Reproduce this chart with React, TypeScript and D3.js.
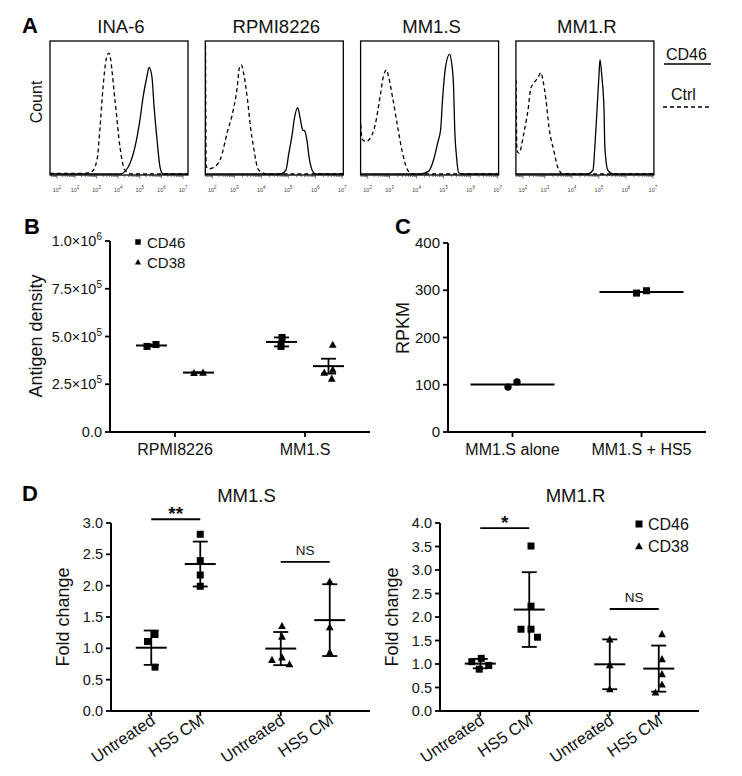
import React from 'react';
import * as d3 from 'd3';

const FONT = "'Liberation Sans', Arial, Helvetica, sans-serif";
const W = 742;
const H = 776;
const INK = '#111';

// ---------------- Panel A: flow histograms ----------------
const cellLines = ['INA-6', 'RPMI8226', 'MM1.S', 'MM1.R'];
const histLegend = ['CD46', 'Ctrl'];
const decadesINA6 = [1, 2, 3, 4, 5, 6, 7];
const decadesOther = [2, 3, 4, 5, 6, 7];
// [log10 fluorescence, count (% of box height)]
const ctrlINA6: [number, number][] = [[0.6, 0.5], [2.37, 0.5], [2.79, 2], [3.02, 11], [3.16, 36], [3.3, 67], [3.44, 88], [3.57, 93], [3.85, 57], [4.08, 21], [4.31, 3], [4.64, 0], [7.3, 0]];
const cd46INA6: [number, number][] = [[0.6, 0], [4.08, 0], [4.45, 5], [4.78, 21], [5.01, 42], [5.15, 59], [5.33, 75], [5.43, 82], [5.56, 75], [5.66, 52], [5.8, 26], [5.94, 5], [6.07, 0], [7.3, 0]];
const ctrlRPMI: [number, number][] = [[1.69, 110], [1.72, 6], [1.85, 4], [2.05, 5], [2.36, 11], [2.68, 32], [2.95, 49], [3.11, 67], [3.19, 82], [3.26, 84], [3.34, 78], [3.49, 57], [3.6, 36], [3.71, 21], [3.9, 3], [4.23, 0], [7.1, 0]];
const cd46RPMI: [number, number][] = [[1.69, 0], [4.72, 0], [4.91, 3], [5.02, 16], [5.14, 30], [5.22, 42], [5.35, 51], [5.43, 44], [5.53, 34], [5.61, 33], [5.69, 26], [5.77, 13], [5.92, 1.5], [6.03, 0], [7.1, 0]];
const ctrlMM1S: [number, number][] = [[1.69, 38], [1.75, 27], [1.91, 25], [2.14, 28], [2.36, 39], [2.59, 62], [2.73, 76], [2.86, 80], [2.95, 75], [3.11, 59], [3.3, 36], [3.48, 16], [3.67, 3], [3.85, 0], [7.1, 0]];
const cd46MM1S: [number, number][] = [[1.69, 0], [4.15, 0], [4.44, 2], [4.63, 11], [4.78, 24], [4.89, 34], [4.96, 57], [5.07, 82], [5.22, 92], [5.3, 85], [5.37, 67], [5.41, 36], [5.48, 13], [5.56, 1], [5.7, 0], [7.1, 0]];
const ctrlMM1R: [number, number][] = [[1.69, 72], [1.73, 18], [1.82, 16], [2.05, 32], [2.23, 49], [2.36, 66], [2.5, 70], [2.68, 74], [2.82, 78], [2.91, 72], [3.04, 57], [3.15, 36], [3.33, 18], [3.48, 5], [3.67, 0], [7.1, 0]];
const cd46MM1R: [number, number][] = [[1.69, 0], [4.59, 0], [4.78, 3], [4.85, 21], [4.93, 49], [5.0, 75], [5.04, 88], [5.11, 75], [5.19, 49], [5.22, 21], [5.33, 3], [5.52, 0], [7.1, 0]];
const ctrlCurves = [ctrlINA6, ctrlRPMI, ctrlMM1S, ctrlMM1R];
const cd46Curves = [cd46INA6, cd46RPMI, cd46MM1S, cd46MM1R];

// ---------------- Panel B ----------------
const bCategories = ['RPMI8226', 'MM1.S'];
const bSeries = ['CD46', 'CD38'];
const bCD46 = [[4.48e5, 4.58e5], [4.48e5, 4.95e5]];
const bCD38 = [[3.1e5, 3.12e5], [4.58e5, 3.28e5, 3.12e5, 2.81e5]];
const bTicks = [0, 2.5e5, 5e5, 7.5e5, 1e6];
const bTickMantissa = ['0.0', '2.5×10', '5.0×10', '7.5×10', '1.0×10'];
const bTickExp = ['', '5', '5', '5', '6'];

// ---------------- Panel C ----------------
const cCategories = ['MM1.S alone', 'MM1.S + HS5'];
const cValues = [[95, 106], [294, 299]];
const cTicks = [0, 100, 200, 300, 400];

// ---------------- Panel D ----------------
const dGroups = ['CD46', 'CD38'];
const dTreatments = ['Untreated', 'HS5 CM'];
const mm1sCD46 = [[1.22, 1.11, 0.7], [2.82, 2.4, 2.17, 1.99]];
const mm1sCD38 = [[1.36, 1.19, 0.86, 0.82, 0.75], [2.07, 1.34, 0.94]];
const mm1rCD46 = [[1.05, 1.12, 0.89, 0.97], [3.51, 2.23, 1.74, 1.74, 1.57]];
const mm1rCD38 = [[1.53, 0.98, 0.47], [1.64, 1.11, 0.79, 0.57, 0.4]];
const mm1sTicks = [0, 0.5, 1, 1.5, 2, 2.5, 3];
const mm1rTicks = [0, 0.5, 1, 1.5, 2, 2.5, 3, 3.5, 4];
const mm1sSig = ['**', 'NS'];
const mm1sSigY = [3.06, 2.38];
const mm1rSig = ['*', 'NS'];
const mm1rSigY = [3.89, 2.17];

// ---------------- helpers ----------------
function swarm(ys: number[], d: number): number[] {
  const idx = ys.map((_, i) => i).sort((a, b) => ys[a] - ys[b]);
  const placed: { x: number; y: number }[] = [];
  const off = new Array(ys.length).fill(0);
  for (const i of idx) {
    const y = ys[i];
    let chosen = 0;
    outer: for (let s = 0; s < 80; s += 0.5) {
      const cands = s === 0 ? [0] : [-s, s];
      for (const c of cands) {
        if (placed.every((p) => Math.hypot(p.x - c, p.y - y) >= d)) {
          chosen = c;
          break outer;
        }
      }
    }
    placed.push({ x: chosen, y });
    off[i] = chosen;
  }
  const c = ((d3.min(off) as number) + (d3.max(off) as number)) / 2;
  return off.map((o) => o - c);
}

type Shape = 'square' | 'triangle' | 'circle';
function Marker({ x, y, shape, size = 7 }: { x: number; y: number; shape: Shape; size?: number }) {
  if (shape === 'square') return <rect x={x - size / 2} y={y - size / 2} width={size} height={size} fill="#000" />;
  if (shape === 'circle') return <circle cx={x} cy={y} r={size / 2 + 0.2} fill="#000" />;
  const h = size * 0.95;
  const w = size * 1.1;
  return <path d={`M${x},${y - h / 2 - 0.5}L${x + w / 2},${y + h / 2}L${x - w / 2},${y + h / 2}Z`} fill="#000" />;
}

function ScatterGroup({ values, cx, y, shape, err, halfMean = 15.5, halfCap = 7.5, swarmD = 10, markerSize = 7 }: any) {
  const ys = values.map((v: number) => y(v));
  const offs = swarm(ys, swarmD);
  const m = d3.mean(values) as number;
  let e = 0;
  if (err === 'sd') e = d3.deviation(values) as number;
  if (err === 'sem') e = (d3.deviation(values) as number) / Math.sqrt(values.length);
  return (
    <g>
      {values.map((v: number, i: number) => (
        <Marker key={i} x={cx + offs[i]} y={ys[i]} shape={shape} size={markerSize} />
      ))}
      <line x1={cx - halfMean} x2={cx + halfMean} y1={y(m)} y2={y(m)} stroke="#000" strokeWidth={2} />
      {err !== 'none' && (
        <g stroke="#000" strokeWidth={1.8}>
          <line x1={cx} x2={cx} y1={y(m + e)} y2={y(m - e)} />
          <line x1={cx - halfCap} x2={cx + halfCap} y1={y(m + e)} y2={y(m + e)} />
          <line x1={cx - halfCap} x2={cx + halfCap} y1={y(m - e)} y2={y(m - e)} />
        </g>
      )}
    </g>
  );
}

function YAxis({ x, y, ticks, labels, exps, fontSize = 14.5 }: any) {
  const [y0, y1] = y.range();
  return (
    <g>
      <line x1={x} x2={x} y1={y0} y2={y1} stroke="#000" strokeWidth={2} />
      {ticks.map((t: number, i: number) => (
        <g key={i}>
          <line x1={x - 5} x2={x} y1={y(t)} y2={y(t)} stroke="#000" strokeWidth={1.8} />
          <text x={x - 8} y={y(t) + 5} textAnchor="end" fontSize={fontSize} fill={INK}>
            {labels[i]}
            {exps && exps[i] ? (
              <tspan dy={-6} fontSize={10}>
                {exps[i]}
              </tspan>
            ) : null}
          </text>
        </g>
      ))}
    </g>
  );
}

// ---------------- Panel A component ----------------
function HistPanel({ i }: { i: number }) {
  const L = 50 + i * 155.3;
  const top = 41;
  const bottom = 175;
  const R = L + 138;
  const xs =
    i === 0
      ? d3.scaleLinear().domain([1, 2, 7]).range([L + 7, L + 25, L + 133])
      : d3.scaleLinear().domain([2, 3, 7]).range([L + 7, L + 29, L + 137]);
  const yc = d3.scaleLinear().domain([0, 100]).range([bottom - 1, 44]);
  const line = d3
    .line<[number, number]>()
    .x((d) => xs(d[0]))
    .y((d) => yc(d[1]))
    .curve(d3.curveMonotoneX);
  const lo = xs.invert(L);
  const hi = xs.invert(R);
  const decades = i === 0 ? decadesINA6 : decadesOther;
  const minor: number[] = [];
  for (let n = Math.floor(lo); n <= 7; n++) {
    for (let k = 2; k <= 9; k++) {
      const v = n + Math.log10(k);
      if (v >= lo && v <= hi) minor.push(v);
    }
  }
  const clipId = `clipA${i}`;
  return (
    <g>
      <defs>
        <clipPath id={clipId}>
          <rect x={L} y={top} width={R - L} height={bottom - top} />
        </clipPath>
      </defs>
      <text x={(L + R) / 2 + 2} y={33} textAnchor="middle" fontSize={18.5} fill={INK}>
        {cellLines[i]}
      </text>
      <g clipPath={`url(#${clipId})`} fill="none" stroke="#000" strokeWidth={1.3}>
        <path d={line(ctrlCurves[i]) as string} strokeDasharray="4,3" />
        <path d={line(cd46Curves[i]) as string} />
      </g>
      <rect x={L} y={top} width={R - L} height={bottom - top} fill="none" stroke="#000" strokeWidth={1.3} />
      <g stroke="#333" strokeWidth={0.7}>
        {minor.map((v, k) => (
          <line key={k} x1={xs(v)} x2={xs(v)} y1={bottom} y2={bottom + 2} />
        ))}
        {decades.map((v, k) => (
          <line key={'M' + k} x1={xs(v)} x2={xs(v)} y1={bottom} y2={bottom + 3.5} />
        ))}
      </g>
      {decades.map((v, k) => (
        <text key={'t' + k} x={xs(v)} y={192} textAnchor="middle" fontSize={5.5} fill="#444">
          10
          <tspan dy={-3} fontSize={4.5}>
            {v}
          </tspan>
        </text>
      ))}
    </g>
  );
}

// ---------------- Panel D component ----------------
function FoldPanel({ x0, x1, yTop, yMax, ticks, title, cd46, cd38, sig, sigY, legend }: any) {
  const y = d3.scaleLinear().domain([0, yMax]).range([711, yTop]);
  const gx = d3.scaleBand().domain(dGroups).range([x0, x1]);
  const tx = d3.scaleBand().domain(dTreatments).range([-49, 49]).paddingOuter(0);
  const pos = (g: string, t: string) => (gx(g) as number) + gx.bandwidth() / 2 + (tx(t) as number) + tx.bandwidth() / 2;
  const groupsData = [cd46, cd38];
  const shapes: Shape[] = ['square', 'triangle'];
  return (
    <g>
      <text x={(x0 + x1) / 2 + 6} y={502} textAnchor="middle" fontSize={18.5} fill={INK}>
        {title}
      </text>
      <YAxis x={x0} y={y} ticks={ticks} labels={ticks.map((t: number) => d3.format('.1f')(t))} />
      <line x1={x0} x2={x1} y1={711} y2={711} stroke="#000" strokeWidth={2} />
      {dGroups.map((g, gi) =>
        dTreatments.map((t, ti) => {
          const cx = pos(g, t);
          return (
            <g key={g + t}>
              <line x1={cx} x2={cx} y1={711} y2={716} stroke="#000" strokeWidth={1.8} />
              <text
                transform={`translate(${cx + 5},${723}) rotate(-34)`}
                textAnchor="end"
                fontSize={16.5}
                fill={INK}
              >
                {t}
              </text>
              <ScatterGroup values={groupsData[gi][ti]} cx={cx} y={y} shape={shapes[gi]} err="sd" />
            </g>
          );
        })
      )}
      {dGroups.map((g, gi) => {
        const a = pos(g, dTreatments[0]);
        const b = pos(g, dTreatments[1]);
        const ly = y(sigY[gi]);
        const isStar = sig[gi].includes('*');
        return (
          <g key={'s' + g}>
            <line x1={a} x2={b} y1={ly} y2={ly} stroke="#000" strokeWidth={1.8} />
            <text
              x={(a + b) / 2}
              y={isStar ? ly + 1 : ly - 7}
              textAnchor="middle"
              fontSize={isStar ? 19 : 13.5}
              fontWeight={isStar ? 'bold' : 'normal'}
              fill={INK}
            >
              {sig[gi]}
            </text>
          </g>
        );
      })}
      <text
        transform={`translate(${x0 - 42},${617}) rotate(-90)`}
        textAnchor="middle"
        fontSize={18}
        fill={INK}
      >
        Fold change
      </text>
      {legend &&
        dGroups.map((g, gi) => (
          <g key={'lg' + g}>
            <Marker x={x1 - 60} y={524 + gi * 22} shape={shapes[gi]} size={7} />
            <text x={x1 - 51} y={530 + gi * 22} fontSize={16} fill={INK}>
              {g}
            </text>
          </g>
        ))}
    </g>
  );
}

export default function App() {
  // Panel B scales
  const bY = d3.scaleLinear().domain([0, 1e6]).range([432, 241]);
  const bX = d3.scalePoint().domain(bCategories).range([110, 370]).padding(0.5);
  const bInner = d3.scalePoint().domain(bSeries).range([-23.5, 23.5]);
  // Panel C scales
  const cY = d3.scaleLinear().domain([0, 400]).range([432, 243]);
  const cX = d3.scalePoint().domain(cCategories).range([448, 706]).padding(0.5);
  const bData = [bCD46, bCD38];
  const bShapes: Shape[] = ['square', 'triangle'];
  const cShapes: Shape[] = ['circle', 'square'];

  return (
    <svg
      width={W}
      height={H}
      viewBox={`0 0 ${W} ${H}`}
      style={{ position: 'absolute', left: 0, top: 0, background: '#fff' }}
      fontFamily={FONT}
    >
      <rect width={W} height={H} fill="#fff" />
      {/* Panel letters */}
      <g fontWeight="bold" fontSize={22} fill="#000">
        <text x={22} y={33}>A</text>
        <text x={24} y={234}>B</text>
        <text x={395} y={234}>C</text>
        <text x={22} y={501}>D</text>
      </g>

      {/* Panel A */}
      <text transform="translate(42,102) rotate(-90)" textAnchor="middle" fontSize={16} fill={INK}>
        Count
      </text>
      {cellLines.map((_, i) => (
        <HistPanel key={i} i={i} />
      ))}
      <text x={666} y={60} fontSize={16} fill={INK}>
        {histLegend[0]}
      </text>
      <line x1={664} x2={711} y1={64} y2={64} stroke="#000" strokeWidth={1.3} />
      <text x={671} y={100} fontSize={16} fill={INK}>
        {histLegend[1]}
      </text>
      <line x1={663} x2={709} y1={107} y2={107} stroke="#000" strokeWidth={1.3} strokeDasharray="4,3" />

      {/* Panel B */}
      <YAxis x={110} y={bY} ticks={bTicks} labels={bTickMantissa} exps={bTickExp} />
      <line x1={110} x2={370} y1={432} y2={432} stroke="#000" strokeWidth={2} />
      {bCategories.map((c, ci) => (
        <g key={c}>
          <line x1={bX(c)} x2={bX(c)} y1={432} y2={437} stroke="#000" strokeWidth={1.8} />
          <text x={bX(c)} y={455} textAnchor="middle" fontSize={16} fill={INK}>
            {c}
          </text>
          {bSeries.map((s, si) => (
            <ScatterGroup
              key={s}
              values={bData[si][ci]}
              cx={(bX(c) as number) + (bInner(s) as number)}
              y={bY}
              shape={bShapes[si]}
              err="sem"
              swarmD={9}
            />
          ))}
        </g>
      ))}
      <text transform="translate(42,336) rotate(-90)" textAnchor="middle" fontSize={18} fill={INK}>
        Antigen density
      </text>
      {bSeries.map((s, si) => (
        <g key={'bl' + s}>
          <Marker x={138} y={242 + si * 20} shape={bShapes[si]} size={5.5} />
          <text x={147} y={248 + si * 20} fontSize={15} fill={INK}>
            {s}
          </text>
        </g>
      ))}

      {/* Panel C */}
      <YAxis x={448} y={cY} ticks={cTicks} labels={cTicks.map((t) => String(t))} fontSize={15} />
      <line x1={448} x2={706} y1={432} y2={432} stroke="#000" strokeWidth={2} />
      {cCategories.map((c, ci) => (
        <g key={c}>
          <line x1={cX(c)} x2={cX(c)} y1={432} y2={437} stroke="#000" strokeWidth={1.8} />
          <text x={cX(c)} y={455} textAnchor="middle" fontSize={16} fill={INK}>
            {c}
          </text>
          <ScatterGroup
            values={cValues[ci]}
            cx={cX(c)}
            y={cY}
            shape={cShapes[ci]}
            err="none"
            halfMean={42}
            swarmD={10}
          />
        </g>
      ))}
      <text transform="translate(409,328) rotate(-90)" textAnchor="middle" fontSize={18} fill={INK}>
        RPKM
      </text>

      {/* Panel D */}
      <FoldPanel
        x0={111}
        x1={370}
        yTop={523}
        yMax={3}
        ticks={mm1sTicks}
        title="MM1.S"
        cd46={mm1sCD46}
        cd38={mm1sCD38}
        sig={mm1sSig}
        sigY={mm1sSigY}
        legend={false}
      />
      <FoldPanel
        x0={440}
        x1={699}
        yTop={523}
        yMax={4}
        ticks={mm1rTicks}
        title="MM1.R"
        cd46={mm1rCD46}
        cd38={mm1rCD38}
        sig={mm1rSig}
        sigY={mm1rSigY}
        legend={true}
      />
    </svg>
  );
}
